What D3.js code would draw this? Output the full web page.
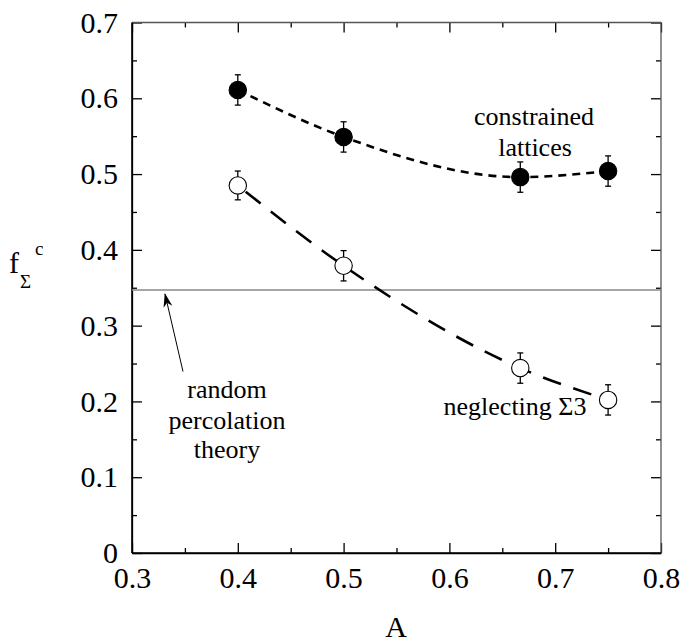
<!DOCTYPE html>
<html>
<head>
<meta charset="utf-8">
<script src="https://cdn.jsdelivr.net/npm/d3@7"></script>
<style>
body { margin: 0; background: #fff; }
svg { display: block; font-family: 'Liberation Serif', 'DejaVu Serif', serif; }
.axis text { font-family: 'Liberation Serif', serif; font-size: 30px; fill: #000; }
.axis path, .axis line { stroke: #000; stroke-width: 1.3px; }
.minor path { stroke: none; }
.minor text { display: none; }
.note { font-size: 26px; fill: #000; text-anchor: middle; }
</style>
</head>
<body>
<svg width="685" height="643"></svg>
<script>
//Data.
var aVals = [0.4, 0.5, 0.667, 0.75];
var constrained = [0.611, 0.549, 0.496, 0.504];
var neglecting = [0.485, 0.379, 0.244, 0.202];
var errConstrained = [0.02, 0.02, 0.02, 0.02];
var errNeglecting = [0.019, 0.02, 0.02, 0.02];
var randomPerc = 0.347;
var xTicks = [0.3, 0.4, 0.5, 0.6, 0.7, 0.8];
var yTicks = [0, 0.1, 0.2, 0.3, 0.4, 0.5, 0.6, 0.7];

var svg = d3.select('svg');
var margin = {top: 22.5, right: 24, bottom: 90, left: 132};
var widthInner = 685 - margin.left - margin.right,
		heightInner = 643 - margin.top - margin.bottom;
var inner = svg.append('g')
	.attr('transform', 'translate(' + margin.left + ',' + margin.top + ')');

var xScale = d3.scaleLinear().domain([0.3, 0.8]).range([0, widthInner]);
var yScale = d3.scaleLinear().domain([0, 0.7]).range([heightInner, 0]);

//Minor ticks every 0.05 (drawn on all four sides, pointing inward).
var xMinor = d3.range(0.35, 0.8, 0.1), yMinor = d3.range(0.05, 0.7, 0.1);
inner.append('g').attr('class', 'axis minor').attr('transform', 'translate(0,' + heightInner + ')')
	.call(d3.axisBottom(xScale).tickValues(xMinor).tickSize(-5).tickSizeOuter(0));
inner.append('g').attr('class', 'axis minor')
	.call(d3.axisTop(xScale).tickValues(xMinor).tickSize(-5).tickSizeOuter(0));
inner.append('g').attr('class', 'axis minor')
	.call(d3.axisLeft(yScale).tickValues(yMinor).tickSize(-5).tickSizeOuter(0));
inner.append('g').attr('class', 'axis minor').attr('transform', 'translate(' + widthInner + ',0)')
	.call(d3.axisRight(yScale).tickValues(yMinor).tickSize(-5).tickSizeOuter(0));

//Major ticks and labels.
inner.append('g').attr('class', 'axis').attr('transform', 'translate(0,' + heightInner + ')')
	.call(d3.axisBottom(xScale).tickValues(xTicks).tickSize(-10).tickSizeOuter(0).tickPadding(14).tickFormat(d3.format('.1f')));
inner.append('g').attr('class', 'axis')
	.call(d3.axisLeft(yScale).tickValues(yTicks).tickSize(-10).tickSizeOuter(0).tickPadding(14)
		.tickFormat(function(d) { return d === 0 ? '0' : d3.format('.1f')(d); }));
inner.append('g').attr('class', 'axis minor')
	.call(d3.axisTop(xScale).tickValues(xTicks).tickSize(-10).tickSizeOuter(0));
inner.append('g').attr('class', 'axis minor').attr('transform', 'translate(' + widthInner + ',0)')
	.call(d3.axisRight(yScale).tickValues(yTicks).tickSize(-10).tickSizeOuter(0));
//Frame: top and right edges are lighter in the original scan.
inner.append('line').attr('x1', 0).attr('x2', widthInner).attr('y1', 0).attr('y2', 0)
	.style('stroke', '#555').style('stroke-width', 1.3);
inner.append('line').attr('x1', widthInner).attr('x2', widthInner).attr('y1', 0).attr('y2', heightInner)
	.style('stroke', '#555').style('stroke-width', 1.3);
inner.append('line').attr('x1', 0).attr('x2', 0).attr('y1', 0).attr('y2', heightInner)
	.style('stroke', '#000').style('stroke-width', 1.6);
inner.append('line').attr('x1', 0).attr('x2', widthInner).attr('y1', heightInner).attr('y2', heightInner)
	.style('stroke', '#000').style('stroke-width', 1.6);

//Random percolation threshold.
inner.append('line')
	.attr('x1', 0).attr('x2', widthInner)
	.attr('y1', yScale(randomPerc)).attr('y2', yScale(randomPerc))
	.style('stroke', '#888').style('stroke-width', 1.6);

//Dashed guide curves through the points.
var conData = aVals.map(function(a, i) { return {x: a, y: constrained[i], e: errConstrained[i]}; });
var negData = aVals.map(function(a, i) { return {x: a, y: neglecting[i], e: errNeglecting[i]}; });
var line = d3.line()
	.x(function(d) { return xScale(d.x); })
	.y(function(d) { return yScale(d.y); })
	.curve(d3.curveMonotoneX);
inner.append('path').datum(conData).attr('d', line)
	.style('fill', 'none').style('stroke', '#000').style('stroke-width', 2.6)
	.style('stroke-dasharray', '8,6');
inner.append('path').datum(negData).attr('d', line)
	.style('fill', 'none').style('stroke', '#000').style('stroke-width', 2.6)
	.style('stroke-dasharray', '19,13').style('stroke-dashoffset', -10);

//Error bars and markers.
function drawSeries(data, filled) {
	var g = inner.append('g');
	var bars = g.selectAll('g.err').data(data).enter().append('g').attr('class', 'err');
	bars.append('line')
		.attr('x1', function(d) { return xScale(d.x); }).attr('x2', function(d) { return xScale(d.x); })
		.attr('y1', function(d) { return yScale(d.y + d.e); }).attr('y2', function(d) { return yScale(d.y - d.e); })
		.style('stroke', '#000').style('stroke-width', 1.3);
	[1, -1].forEach(function(s) {
		bars.append('line')
			.attr('x1', function(d) { return xScale(d.x) - 3; }).attr('x2', function(d) { return xScale(d.x) + 3; })
			.attr('y1', function(d) { return yScale(d.y + s * d.e); }).attr('y2', function(d) { return yScale(d.y + s * d.e); })
			.style('stroke', '#000').style('stroke-width', 1.3);
	});
	g.selectAll('circle').data(data).enter().append('circle')
		.attr('cx', function(d) { return xScale(d.x); })
		.attr('cy', function(d) { return yScale(d.y); })
		.attr('r', 8.7)
		.style('fill', filled ? '#000' : '#fff')
		.style('stroke', '#000').style('stroke-width', 1.1);
}
drawSeries(conData, true);
drawSeries(negData, false);

//Annotations.
inner.append('text').attr('class', 'note').attr('x', 402).attr('y', 102.5).text('constrained');
inner.append('text').attr('class', 'note').attr('x', 403).attr('y', 133).text('lattices');
inner.append('text').attr('class', 'note').attr('x', 383).attr('y', 392).text('neglecting \u03a33');
inner.append('text').attr('class', 'note').attr('x', 95).attr('y', 375.5).text('random');
inner.append('text').attr('class', 'note').attr('x', 95).attr('y', 406).text('percolation');
inner.append('text').attr('class', 'note').attr('x', 95).attr('y', 435.5).text('theory');

//Arrow pointing at the threshold line.
svg.append('defs').append('marker')
	.attr('id', 'head').attr('viewBox', '0 0 14 14').attr('refX', 13).attr('refY', 7)
	.attr('markerWidth', 14).attr('markerHeight', 14).attr('markerUnits', 'userSpaceOnUse')
	.attr('orient', 'auto')
	.append('path').attr('d', 'M0,2.5 L14,7 L0,11.5 L4,7 Z').style('fill', '#000');
inner.append('line')
	.attr('x1', 51).attr('y1', 349)
	.attr('x2', 33).attr('y2', yScale(randomPerc) + 4)
	.style('stroke', '#000').style('stroke-width', 1)
	.attr('marker-end', 'url(#head)');

//Axis titles.
svg.append('text').attr('x', 396).attr('y', 637).attr('text-anchor', 'middle')
	.style('font-size', '30px').text('A');
var yl = svg.append('text').attr('x', 9).attr('y', 273).style('font-size', '30px');
yl.append('tspan').text('f');
yl.append('tspan').attr('x', 20).attr('y', 288).style('font-size', '19px').text('\u03a3');
yl.append('tspan').attr('x', 35).attr('y', 255).style('font-size', '19px').text('c');
</script>
</body>
</html>
